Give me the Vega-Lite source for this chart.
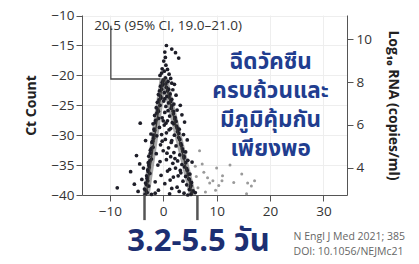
{
  "$schema": "https://vega.github.io/schema/vega-lite/v6.json",
  "autosize": {"type": "none"},
  "width": 265,
  "height": 180,
  "padding": {"left": 82, "top": 15, "right": 72, "bottom": 69},
  "background": "#ffffff",
  "config": {
    "view": {"stroke": null},
    "font": "Open Sans",
    "axis": {
      "domainColor": "#555555",
      "tickColor": "#555555",
      "labelColor": "#333333",
      "labelFont": "Open Sans",
      "labelFontSize": 13.5,
      "titleFont": "Open Sans",
      "titleColor": "#222222",
      "titleFontWeight": "bold",
      "titleFontSize": 14,
      "tickSize": 6,
      "gridColor": "#eeeeee",
      "labelOverlap": false
    }
  },
  "datasets": {
    "black": [
      {"day": 0.6, "ct": -15.0}, {"day": 1.6, "ct": -15.6}, {"day": 0.3, "ct": -16.1}, {"day": 2.3, "ct": -16.2},
      {"day": 0.4, "ct": -17.0}, {"day": 0.1, "ct": -17.6}, {"day": 2.9, "ct": -17.1}, {"day": 0.5, "ct": -18.3},
      {"day": -0.2, "ct": -18.9}, {"day": 0.2, "ct": -19.3}, {"day": 0.8, "ct": -19.0}, {"day": 1.1, "ct": -19.8},
      {"day": -0.6, "ct": -20.0}, {"day": 0.4, "ct": -20.4}, {"day": 0.0, "ct": -20.8}, {"day": -0.3, "ct": -19.6},
      {"day": 1.4, "ct": -20.5},
      {"day": -0.2, "ct": -21.2}, {"day": 0.9, "ct": -21.0}, {"day": 1.6, "ct": -21.3}, {"day": 2.1, "ct": -21.5},
      {"day": -0.5, "ct": -21.8}, {"day": 0.6, "ct": -22.0}, {"day": 1.0, "ct": -22.3}, {"day": -0.7, "ct": -22.6},
      {"day": 1.8, "ct": -22.4}, {"day": 0.2, "ct": -22.9}, {"day": -0.9, "ct": -23.2}, {"day": 1.3, "ct": -23.1},
      {"day": 0.7, "ct": -23.5}, {"day": 2.4, "ct": -23.3}, {"day": -0.4, "ct": -23.8}, {"day": 1.6, "ct": -24.0},
      {"day": 0.1, "ct": -24.3}, {"day": -1.1, "ct": -24.5}, {"day": 1.0, "ct": -24.6}, {"day": 2.0, "ct": -24.8},
      {"day": -0.6, "ct": -25.0}, {"day": 0.5, "ct": -25.2}, {"day": 3.2, "ct": -25.0},
      {"day": -1.3, "ct": -25.4}, {"day": 1.5, "ct": -25.5}, {"day": 2.6, "ct": -25.8}, {"day": -0.9, "ct": -26.0},
      {"day": 0.3, "ct": -26.2}, {"day": 1.9, "ct": -26.4}, {"day": -1.6, "ct": -26.7}, {"day": 1.2, "ct": -26.8},
      {"day": 3.5, "ct": -26.6}, {"day": -0.2, "ct": -27.1}, {"day": 2.2, "ct": -27.3}, {"day": -1.4, "ct": -27.5},
      {"day": 0.8, "ct": -27.6}, {"day": 1.7, "ct": -27.9}, {"day": 4.0, "ct": -27.8}, {"day": -1.9, "ct": -28.1},
      {"day": 0.2, "ct": -28.3}, {"day": 2.5, "ct": -28.5}, {"day": -0.7, "ct": -28.7}, {"day": 1.4, "ct": -28.9},
      {"day": -1.6, "ct": -29.2}, {"day": 3.0, "ct": -29.0}, {"day": 2.7, "ct": -29.4}, {"day": 0.6, "ct": -29.6},
      {"day": -2.3, "ct": -29.8}, {"day": -4.3, "ct": -28.0}, {"day": 2.1, "ct": -30.0}, {"day": 3.8, "ct": -29.9},
      {"day": -1.2, "ct": -30.1},
      {"day": -1.8, "ct": -30.5}, {"day": 2.9, "ct": -30.4}, {"day": 0.4, "ct": -30.7}, {"day": 1.6, "ct": -30.9},
      {"day": -3.3, "ct": -30.9}, {"day": 4.5, "ct": -30.8}, {"day": -2.1, "ct": -31.2}, {"day": 3.3, "ct": -31.4},
      {"day": -0.5, "ct": -31.6}, {"day": 2.4, "ct": -31.8}, {"day": -1.9, "ct": -32.0}, {"day": 1.0, "ct": -32.1},
      {"day": 3.6, "ct": -32.3}, {"day": -2.4, "ct": -32.5}, {"day": 0.0, "ct": -32.6}, {"day": 2.0, "ct": -32.9},
      {"day": 4.2, "ct": -32.8}, {"day": -1.3, "ct": -33.1}, {"day": 3.1, "ct": -33.3}, {"day": -2.7, "ct": -33.5},
      {"day": -5.0, "ct": -33.4}, {"day": 1.4, "ct": -33.6}, {"day": 3.9, "ct": -33.8}, {"day": -2.2, "ct": -34.0},
      {"day": 0.6, "ct": -34.1}, {"day": 2.7, "ct": -34.3}, {"day": 4.6, "ct": -34.2}, {"day": -2.8, "ct": -34.6},
      {"day": -4.4, "ct": -34.8}, {"day": 1.8, "ct": -34.7}, {"day": 3.5, "ct": -34.9}, {"day": -1.0, "ct": -35.0},
      {"day": 5.4, "ct": -34.5},
      {"day": -2.6, "ct": -35.3}, {"day": 4.0, "ct": -35.3}, {"day": -3.7, "ct": -35.5}, {"day": 2.3, "ct": -35.5},
      {"day": -2.9, "ct": -35.8}, {"day": 4.5, "ct": -35.9}, {"day": -6.1, "ct": -36.1}, {"day": 0.8, "ct": -36.0},
      {"day": 3.3, "ct": -36.3}, {"day": -2.5, "ct": -36.4}, {"day": 5.0, "ct": -36.5}, {"day": -3.1, "ct": -36.8},
      {"day": 4.2, "ct": -36.9}, {"day": -0.4, "ct": -36.7}, {"day": 1.9, "ct": -37.0}, {"day": -4.0, "ct": -37.4},
      {"day": 4.8, "ct": -37.3}, {"day": -2.9, "ct": -37.6}, {"day": 3.7, "ct": -37.7}, {"day": 5.3, "ct": -37.9},
      {"day": -3.3, "ct": -38.0}, {"day": -5.4, "ct": -38.2}, {"day": 0.3, "ct": -38.1}, {"day": 4.4, "ct": -38.3},
      {"day": -2.7, "ct": -38.5}, {"day": 5.1, "ct": -38.6}, {"day": -8.6, "ct": -38.8}, {"day": 2.6, "ct": -38.7},
      {"day": -3.5, "ct": -39.0}, {"day": 4.9, "ct": -39.1}, {"day": -0.9, "ct": -39.2}, {"day": -4.7, "ct": -39.4},
      {"day": 5.6, "ct": -39.3}, {"day": -3.0, "ct": -39.6}, {"day": 3.9, "ct": -39.7}, {"day": 1.2, "ct": -39.8},
      {"day": -2.2, "ct": -39.9}, {"day": 5.2, "ct": -39.9}, {"day": -3.4, "ct": -39.9}, {"day": 4.6, "ct": -40.0},
      {"day": 6.0, "ct": -39.6}, {"day": -1.5, "ct": -39.7},
      {"day": -0.1, "ct": -21.6}, {"day": -0.3, "ct": -22.3}, {"day": -0.5, "ct": -23.5}, {"day": -0.8, "ct": -24.1},
      {"day": -1.0, "ct": -25.8}, {"day": -1.2, "ct": -26.3}, {"day": -1.5, "ct": -27.9}, {"day": -1.7, "ct": -29.0},
      {"day": -1.8, "ct": -30.0}, {"day": -2.0, "ct": -31.0}, {"day": -2.2, "ct": -32.2}, {"day": -2.4, "ct": -33.0},
      {"day": -2.5, "ct": -34.3}, {"day": -2.7, "ct": -35.0}, {"day": -2.8, "ct": -36.1}, {"day": -3.0, "ct": -37.2},
      {"day": -3.1, "ct": -38.3}, {"day": -3.2, "ct": -39.3},
      {"day": 0.5, "ct": -21.4}, {"day": 0.8, "ct": -22.6}, {"day": 1.1, "ct": -23.6}, {"day": 1.4, "ct": -24.4},
      {"day": 1.6, "ct": -25.1}, {"day": 1.9, "ct": -26.0}, {"day": 2.2, "ct": -27.0}, {"day": 2.4, "ct": -27.7},
      {"day": 2.6, "ct": -28.8}, {"day": 2.9, "ct": -29.7}, {"day": 3.1, "ct": -30.7}, {"day": 3.4, "ct": -31.7},
      {"day": 3.7, "ct": -32.7}, {"day": 3.9, "ct": -33.5}, {"day": 4.2, "ct": -34.6}, {"day": 4.4, "ct": -35.6},
      {"day": 4.7, "ct": -36.5}, {"day": 4.9, "ct": -37.4}, {"day": 5.2, "ct": -38.4}, {"day": 5.4, "ct": -39.5},
      {"day": 0.3, "ct": -23.9}, {"day": 0.9, "ct": -25.9}, {"day": 0.0, "ct": -27.6}, {"day": 1.1, "ct": -29.1},
      {"day": -0.3, "ct": -29.9}, {"day": 1.5, "ct": -31.2}, {"day": 0.7, "ct": -33.0}, {"day": 2.2, "ct": -33.9},
      {"day": -0.6, "ct": -34.4}, {"day": 1.2, "ct": -35.7}, {"day": 2.8, "ct": -36.8}, {"day": -1.5, "ct": -37.8},
      {"day": 1.6, "ct": -38.9}, {"day": 3.0, "ct": -39.4}, {"day": -0.2, "ct": -31.0}, {"day": 2.0, "ct": -28.1},
      {"day": 0.5, "ct": -28.0}, {"day": -0.9, "ct": -27.2}, {"day": 1.3, "ct": -37.5}, {"day": 3.2, "ct": -35.9}
    ],
    "gray": [
      {"day": 6.8, "ct": -32.6}, {"day": 7.3, "ct": -34.8}, {"day": 8.3, "ct": -37.1}, {"day": 8.7, "ct": -38.0},
      {"day": 9.3, "ct": -37.6}, {"day": 10.0, "ct": -35.5}, {"day": 11.1, "ct": -36.8}, {"day": 11.0, "ct": -37.6},
      {"day": 14.7, "ct": -36.5}, {"day": 15.8, "ct": -38.0}, {"day": 17.1, "ct": -37.6}, {"day": 16.5, "ct": -38.5},
      {"day": 15.6, "ct": -39.8}, {"day": 6.5, "ct": -38.8}, {"day": 7.6, "ct": -36.2}, {"day": 9.8, "ct": -39.2},
      {"day": 12.5, "ct": -35.0}, {"day": 6.2, "ct": -36.9}, {"day": 7.9, "ct": -39.5}, {"day": 10.4, "ct": -38.4},
      {"day": 6.0, "ct": -35.2}, {"day": 13.2, "ct": -37.9}
    ],
    "fit": [
      {"side": "rise", "day": 0.0, "ct": -20.5}, {"side": "rise", "day": -3.2, "ct": -40},
      {"side": "fall", "day": 0.2, "ct": -20.5}, {"side": "fall", "day": 5.5, "ct": -40}
    ],
    "callout": [
      {"step": 1, "day": -9.8, "ct": -11.7},
      {"step": 2, "day": -9.8, "ct": -20.6},
      {"step": 3, "day": -0.6, "ct": -20.6}
    ],
    "marks": [
      {"day": -3.5, "ct": -40, "bottom": -44.2},
      {"day": 6.4, "ct": -40, "bottom": -44.2}
    ],
    "thai": [
      {"message": "ฉีดวัคซีน\nครบถ้วนและ\nมีภูมิคุ้มกัน\nเพียงพอ", "day": 20.1, "ct": -17.7}
    ]
  },
  "resolve": {"scale": {"y": "independent"}},
  "layer": [
    {
      "encoding": {
        "x": {"field": "day", "type": "quantitative", "scale": {"domain": [-15.2, 34.4], "nice": false, "zero": false},
              "axis": {"values": [-10, 0, 10, 20, 30], "title": null, "grid": true, "labelPadding": 3}},
        "y": {"field": "ct", "type": "quantitative", "scale": {"domain": [-40, -9.9], "nice": false, "zero": false},
              "axis": {"values": [-10, -15, -20, -25, -30, -35, -40], "title": "Ct Count", "grid": true, "titlePadding": 12, "labelPadding": 2}}
      },
      "layer": [
        {
          "data": {"name": "fit"},
          "mark": {"type": "line", "color": "#8a8a8a", "strokeWidth": 7, "opacity": 0.75},
          "encoding": {"detail": {"field": "side"}}
        },
        {
          "data": {"name": "gray"},
          "mark": {"type": "circle", "color": "#9a9a9a", "size": 9, "opacity": 1}
        },
        {
          "data": {"name": "black"},
          "mark": {"type": "circle", "color": "#1e1e28", "size": 14, "opacity": 1}
        },
        {
          "data": {"name": "fit"},
          "mark": {"type": "line", "color": "#333333", "strokeWidth": 1.3},
          "encoding": {"detail": {"field": "side"}}
        },
        {
          "data": {"name": "callout"},
          "mark": {"type": "line", "color": "#444444", "strokeWidth": 1.3},
          "encoding": {"order": {"field": "step"}}
        },
        {
          "data": {"name": "marks"},
          "mark": {"type": "rule", "color": "#555555", "strokeWidth": 2.5, "clip": false},
          "encoding": {"y2": {"field": "bottom"}}
        },
        {
          "data": {"values": [{"label": "20.5 (95% CI, 19.0–21.0)", "day": -12.9, "ct": -11.8}]},
          "mark": {"type": "text", "align": "left", "baseline": "middle", "fontSize": 13.5, "color": "#333333", "font": "Open Sans", "clip": false},
          "encoding": {"text": {"field": "label"}}
        },
        {
          "data": {"name": "thai"},
          "mark": {"type": "text", "align": "center", "baseline": "middle", "lineBreak": "\n", "lineHeight": 29, "fontSize": 22.5, "fontWeight": "bold", "color": "#213d8f", "font": "Noto Sans Thai, Noto Sans, sans-serif"},
          "encoding": {"text": {"field": "message"}}
        },
        {
          "data": {"values": [{"label": "3.2-5.5 วัน", "day": 6.6, "ct": -47.9}]},
          "mark": {"type": "text", "align": "center", "baseline": "middle", "fontSize": 31, "fontWeight": "bold", "color": "#1c2f72", "font": "Noto Sans Thai, Noto Sans, sans-serif", "clip": false},
          "encoding": {"text": {"field": "label"}}
        },
        {
          "data": {"values": [
            {"label": "N Engl J Med 2021; 385", "day": 24.4, "ct": -47.0},
            {"label": "DOI: 10.1056/NEJMc21", "day": 24.4, "ct": -49.6}
          ]},
          "mark": {"type": "text", "align": "left", "baseline": "middle", "fontSize": 10.5, "color": "#666666", "font": "Open Sans", "clip": false},
          "encoding": {"text": {"field": "label"}}
        }
      ]
    },
    {
      "data": {"values": [{"rna": 4}, {"rna": 10}]},
      "mark": {"type": "tick", "opacity": 0},
      "encoding": {
        "y": {"field": "rna", "type": "quantitative", "scale": {"domain": [2.74, 11.12], "nice": false, "zero": false},
              "axis": {"orient": "right", "values": [4, 6, 8, 10], "title": "Log₁₀ RNA (copies/ml)", "titlePadding": 14, "labelPadding": 3, "grid": false}}
      }
    }
  ]
}
